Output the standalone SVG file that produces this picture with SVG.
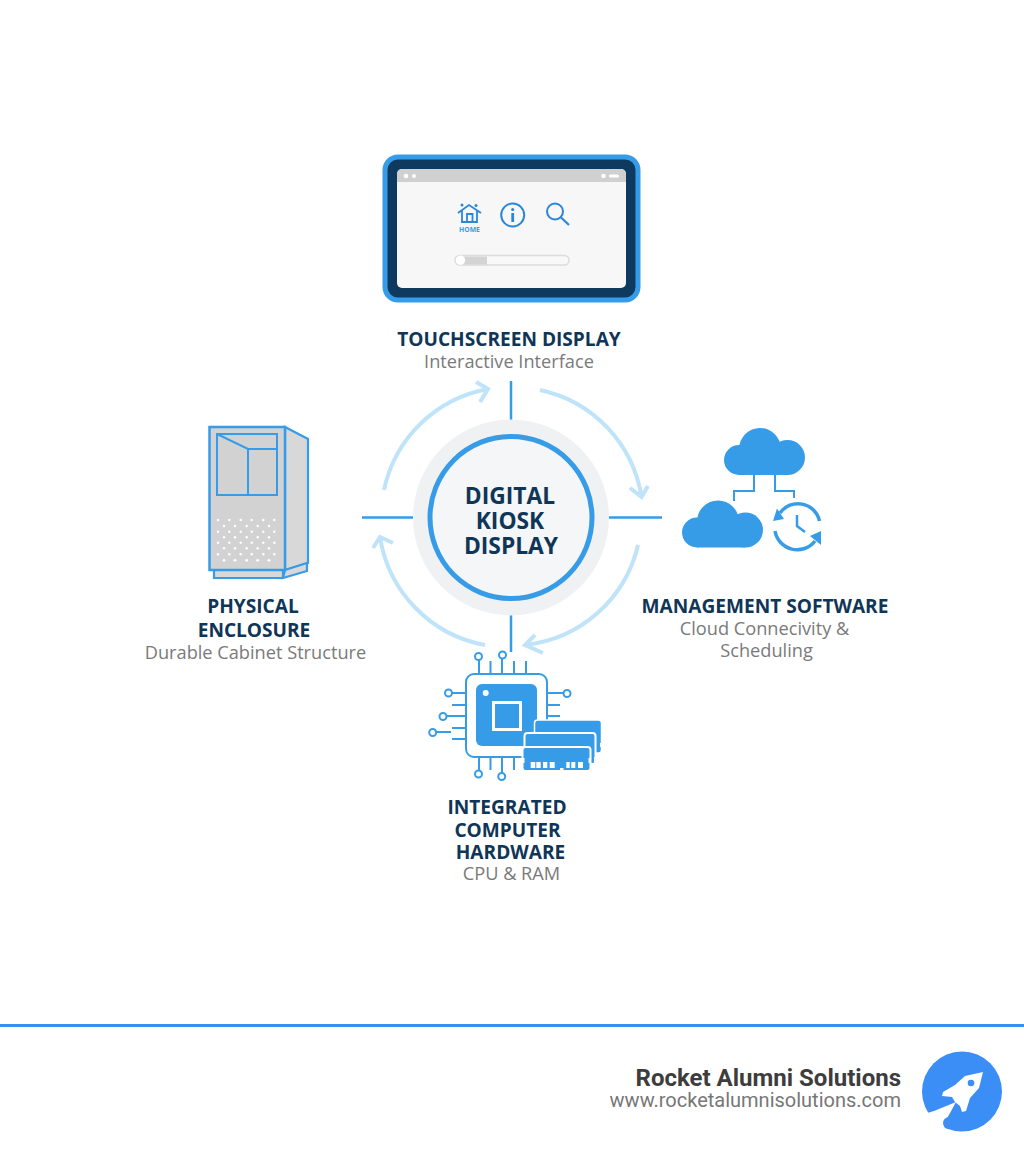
<svg xmlns="http://www.w3.org/2000/svg" width="1024" height="1154" viewBox="0 0 1024 1154">
<style>
.t{font-family:"Open Sans","Noto Sans",sans-serif;font-weight:700;fill:#0f3557;text-anchor:middle}
.h{font-size:19.1px}
.s{font-family:"Open Sans","Noto Sans",sans-serif;font-size:18.2px;fill:#7a7a7a;text-anchor:middle}
.c{font-size:22.8px}
.spoke{stroke:#379ce8;stroke-width:2.5;fill:none}
.arc{stroke:#bfe3f9;stroke-width:4;fill:none}
.ln{stroke:#379ce8;stroke-width:2;fill:none}
.bl{fill:#379ce8}
.wd{fill:#fff}
.pin{stroke:#379ce8;stroke-width:2;fill:none}
.ball{stroke:#379ce8;stroke-width:2;fill:#fff}
</style>
<defs>
<g id="cloud" class="bl"><circle cx="15" cy="32" r="15"/><circle cx="36" cy="21" r="21"/><circle cx="63.500" cy="29.500" r="17.500"/><rect x="15" y="28" width="48" height="19"/></g>
<filter id="soft" x="-5%" y="-5%" width="110%" height="110%"><feGaussianBlur stdDeviation="0.7"/></filter>
</defs>
<rect width="1024" height="1154" fill="#fff"/>
<g id="connectors">
<path class="spoke" d="M511 381V420M362 517.5H413M609 517.5H662M511 615V652"/>
<path class="arc" d="M384 490A130 130 0 0 1 488 389M476 382L488 389L480 402"/>
<path class="arc" d="M540 390A130 130 0 0 1 641.5 497M630 488L641.5 497L648 486"/>
<path class="arc" d="M638 545A130 130 0 0 1 525 645M535 635L525 645L543 653"/>
<path class="arc" d="M485 645A130 130 0 0 1 380 537M373 548L380 537L393 543"/>
</g>
<g id="center">
<circle cx="511" cy="517.500" r="98" fill="#f0f1f2"/>
<circle cx="511" cy="517.500" r="81" fill="#f5f6f7" stroke="#379ce8" stroke-width="5"/>
<text class="t c" x="510" y="504">DIGITAL</text>
<text class="t c" x="510" y="529">KIOSK</text>
<text class="t c" x="511" y="554">DISPLAY</text>
</g>
<g id="touchscreen">
<rect x="385" y="157" width="253" height="143" rx="13" fill="#0f3a60" stroke="#379ce8" stroke-width="5"/>
<rect x="397" y="169" width="229" height="119" rx="5" fill="#f7f7f7"/>
<path d="M397 182V174a5 5 0 0 1 5-5H621a5 5 0 0 1 5 5V182Z" fill="#d0d0d0"/>
<g class="wd"><circle cx="406" cy="176" r="2.300"/><circle cx="414" cy="176" r="2"/><circle cx="603.500" cy="176" r="2.300"/><rect x="609" y="174.500" width="10" height="3" rx="1.500"/></g>
<path d="M458 213L469 205L481 213M462 210V222H477V210M467 222V214H472.500V222" fill="none" stroke="#2a86d6" stroke-width="1.800"/>
<circle cx="462" cy="205" r="1.500" fill="#2a86d6"/><circle cx="476" cy="205.500" r="1.500" fill="#2a86d6"/>
<text x="469.500" y="232" font-family="Open Sans,sans-serif" font-size="6.800" font-weight="700" fill="#379ce8" text-anchor="middle">HOME</text>
<circle cx="512.700" cy="215" r="11.500" fill="none" stroke="#2a86d6" stroke-width="2"/>
<circle cx="512.700" cy="209.500" r="1.600" fill="#2a86d6"/><rect x="511.300" y="213" width="2.800" height="9" fill="#2a86d6"/>
<circle cx="555" cy="211.500" r="8" fill="none" stroke="#2a86d6" stroke-width="2"/>
<path d="M561 217.500L569 225" stroke="#2a86d6" stroke-width="2.200"/>
<rect x="455" y="255.500" width="114" height="9.500" rx="4.700" fill="#f8f8f8" stroke="#dcdcdc" stroke-width="1.500"/>
<rect x="460" y="256.500" width="27" height="8" fill="#d4d4d4"/>
<circle cx="460.500" cy="260.200" r="4.700" fill="#fff"/>
</g>
<g id="touchscreen-label">
<text class="t h" x="509" y="345.500">TOUCHSCREEN DISPLAY</text>
<text class="s" x="509" y="367.500">Interactive Interface</text>
</g>
<g id="enclosure">
<path d="M285 427L308 439V563L285 570Z" fill="#d8d8d8" stroke="#379ce8" stroke-width="2.200"/>
<path d="M214 570H283V578H214ZM283 578L307 571V563L285 570Z" fill="#d8d8d8" stroke="#379ce8" stroke-width="2.200"/>
<rect x="209.500" y="427" width="75.500" height="143" fill="#d2d2d2" stroke="#379ce8" stroke-width="2.500"/>
<path class="ln" d="M217 434H277V495H217ZM217 434L248 449H277M248 449V495"/>
<g class="wd">
<circle cx="218" cy="520" r="1.200"/><circle cx="229.300" cy="520" r="1.200"/><circle cx="240.700" cy="520" r="1.200"/><circle cx="251.700" cy="520" r="1.200"/><circle cx="263.300" cy="520" r="1.200"/><circle cx="274.300" cy="520" r="1.200"/>
<circle cx="224" cy="526" r="1.200"/><circle cx="235" cy="526" r="1.200"/><circle cx="246.700" cy="526" r="1.200"/><circle cx="257.700" cy="526" r="1.200"/><circle cx="269" cy="526" r="1.200"/>
<circle cx="218" cy="531.700" r="1.200"/><circle cx="229.300" cy="531.700" r="1.200"/><circle cx="240.700" cy="531.700" r="1.200"/><circle cx="251.700" cy="531.700" r="1.200"/><circle cx="263.300" cy="531.700" r="1.200"/><circle cx="274.300" cy="531.700" r="1.200"/>
<circle cx="224" cy="537.300" r="1.200"/><circle cx="235" cy="537.300" r="1.200"/><circle cx="246.700" cy="537.300" r="1.200"/><circle cx="257.700" cy="537.300" r="1.200"/><circle cx="269" cy="537.300" r="1.200"/>
<circle cx="218" cy="542.700" r="1.200"/><circle cx="229.300" cy="542.700" r="1.200"/><circle cx="240.700" cy="542.700" r="1.200"/><circle cx="251.700" cy="542.700" r="1.200"/><circle cx="263.300" cy="542.700" r="1.200"/><circle cx="274.300" cy="542.700" r="1.200"/>
<circle cx="224" cy="548.300" r="1.200"/><circle cx="235" cy="548.300" r="1.200"/><circle cx="246.700" cy="548.300" r="1.200"/><circle cx="257.700" cy="548.300" r="1.200"/><circle cx="269" cy="548.300" r="1.200"/>
<circle cx="218" cy="554.300" r="1.200"/><circle cx="229.300" cy="554.300" r="1.200"/><circle cx="240.700" cy="554.300" r="1.200"/><circle cx="251.700" cy="554.300" r="1.200"/><circle cx="263.300" cy="554.300" r="1.200"/><circle cx="274.300" cy="554.300" r="1.200"/>
<circle cx="224" cy="560.300" r="1.400"/><circle cx="235" cy="560.300" r="1.400"/><circle cx="246.700" cy="560.300" r="1.400"/><circle cx="257.700" cy="560.300" r="1.400"/><circle cx="269" cy="560.300" r="1.400"/>
</g>
</g>
<g id="enclosure-label">
<text class="t h" x="253" y="612.500">PHYSICAL</text>
<text class="t h" x="254" y="636.500">ENCLOSURE</text>
<text class="s" x="255.500" y="658.500">Durable Cabinet Structure</text>
</g>
<g id="software">
<use href="#cloud" x="724" y="428"/>
<use href="#cloud" x="682" y="500.500"/>
<path class="ln" d="M754 475V491H734V501M775 475V491H794V498"/>
<path d="M780 513A22 22 0 0 1 819.500 521M775 531A22.500 22.500 0 0 0 815 541" fill="none" stroke="#379ce8" stroke-width="3.500"/>
<path d="M797 515V526L805 532" fill="none" stroke="#379ce8" stroke-width="2.500"/>
<path class="bl" d="M773 521L777 508.500L784 519Z"/>
<path class="bl" d="M821 531L821 545L810 536Z"/>
</g>
<g id="software-label">
<text class="t h" x="765" y="612.500">MANAGEMENT SOFTWARE</text>
<text class="s" x="764.500" y="634.500">Cloud Connecivity &amp;</text>
<text class="s" x="766.500" y="656.500">Scheduling</text>
</g>
<g id="hardware">
<path class="pin" d="M479 674V660M490.500 674V661M502 674V659M514 674V661M526 674V661M465 693H452M465 705H452M465 716H447M465 728H452M465 739H452M451 732H436M547 693H563M547 705H560M547 716H560M479 757V771M490.500 757V770M502 757V773M514 757V770"/>
<circle class="ball" cx="478.500" cy="656.500" r="3.500"/><circle class="ball" cx="502.500" cy="655" r="3.500"/><circle class="ball" cx="448.500" cy="693" r="3.500"/><circle class="ball" cx="443" cy="716.500" r="3.500"/><circle class="ball" cx="432.700" cy="732.500" r="3.500"/><circle class="ball" cx="567" cy="693.500" r="3.500"/><circle class="ball" cx="478.500" cy="774" r="3.500"/><circle class="ball" cx="501.700" cy="776.500" r="3.500"/>
<rect x="466" y="674" width="81" height="83" rx="8" fill="#fff" stroke="#379ce8" stroke-width="2"/>
<rect x="476" y="684" width="61" height="62" rx="6" class="bl"/>
<circle cx="485.700" cy="693" r="3" class="wd"/>
<rect x="493.500" y="702.500" width="27" height="27" fill="#379ce8" stroke="#fff" stroke-width="3"/>
<rect x="534.500" y="720" width="67" height="33" rx="3" class="bl" stroke="#fff" stroke-width="1.500"/>
<rect x="600" y="743" width="2.500" height="4" class="wd"/>
<rect x="524.500" y="733" width="71" height="31" rx="3" class="bl" stroke="#fff" stroke-width="2"/>
<rect x="594" y="757" width="2.500" height="5" class="wd"/>
<rect x="522.500" y="747" width="68" height="24" rx="3" class="bl" stroke="#fff" stroke-width="2"/>
<g class="wd"><rect x="530.700" y="762" width="4.600" height="6"/><rect x="536.300" y="762" width="4.400" height="6"/><rect x="543" y="762" width="4.300" height="6"/><rect x="549.700" y="762" width="5" height="6"/><rect x="566.300" y="762" width="3.400" height="6"/><rect x="571.300" y="762" width="4" height="6"/><rect x="578" y="762" width="5" height="6"/><rect x="560" y="768" width="3.500" height="3"/><rect x="522" y="758" width="2.500" height="5"/><rect x="588.500" y="758" width="2.500" height="5"/></g>
</g>
<g id="hardware-label">
<text class="t h" x="507" y="813.500">INTEGRATED</text>
<text class="t h" x="507.500" y="836.500">COMPUTER</text>
<text class="t h" x="510.500" y="858.500">HARDWARE</text>
<text class="s" x="511.500" y="879.500">CPU &amp; RAM</text>
</g>
<g id="footer">
<rect x="0" y="1024" width="1024" height="3" fill="#3b8ef5"/>
<text x="901" y="1086" font-family="Roboto,sans-serif" font-size="24" font-weight="700" fill="#3d3d3d" text-anchor="end">Rocket Alumni Solutions</text>
<text x="901" y="1107" font-family="Roboto,sans-serif" font-size="20" fill="#777" text-anchor="end">www.rocketalumnisolutions.com</text>
<g filter="url(#soft)">
<circle cx="962" cy="1091.500" r="40" fill="#3b8ef5"/>
<path d="M956 1102L934 1111L924 1114V1136H946L944 1124Z" fill="#fff"/>
<circle cx="932" cy="1105.500" r="5.500" fill="#3b8ef5"/>
<circle cx="949" cy="1123" r="6" fill="#3b8ef5"/>
<path fill="#fff" d="M983 1072L965 1076L955 1085L943 1092L942 1096L952 1097L955 1102L960 1106L962 1112L966 1111L970 1098L979 1088Z"/>
<circle cx="971" cy="1083" r="3.300" fill="#3b8ef5"/>
</g>
</g>
</svg>
